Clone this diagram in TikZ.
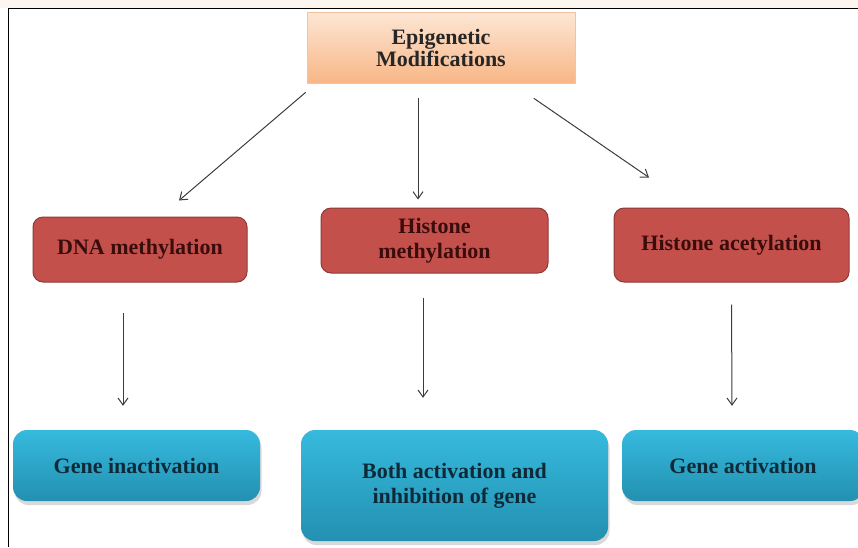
\documentclass[tikz,border=0pt]{standalone}
\usepackage{fontspec}
\setmainfont{Liberation Serif}
\usepackage{tikz}
\usetikzlibrary{arrows.meta,shadows}

\definecolor{stripcol}{HTML}{FDF5EF}
\definecolor{peachtop}{HTML}{FDE6D4}
\definecolor{peachbot}{HTML}{F8B686}
\definecolor{peachline}{HTML}{F3C3A0}
\definecolor{redfill}{HTML}{C4504C}
\definecolor{redline}{HTML}{8E3A38}
\definecolor{redtext}{HTML}{3A0C0C}
\definecolor{bluetop}{HTML}{36BADE}
\definecolor{bluebot}{HTML}{2390B0}
\definecolor{bluetext}{HTML}{0E2A38}
\definecolor{arrowcol}{HTML}{3C3C3C}

\begin{document}
\begin{tikzpicture}[x=1pt,y=-1pt,
    boxtext/.style={align=center,inner sep=0pt,font=\rmfamily\bfseries\fontsize{22}{25}\selectfont},
    modbox/.style={boxtext,top color=peachtop,bottom color=peachbot,draw=peachline,line width=0.6pt,
      font=\rmfamily\bfseries\fontsize{22}{22}\selectfont,text=black!85},
    typebox/.style={boxtext,fill=redfill,draw=redline,line width=1pt,rounded corners=10pt,text=redtext},
    effectbox/.style={boxtext,top color=bluetop,bottom color=bluebot,rounded corners=14pt,text=bluetext,
      drop shadow={opacity=0.3,shadow xshift=1.5pt,shadow yshift=-4pt}},
    link/.style={draw=arrowcol,line width=1pt,-{Straight Barb[length=7pt,width=10pt]}}]
  \useasboundingbox (0,0) rectangle (858,547);
  \fill[stripcol] (0,0) rectangle (858,8);
  \draw[line width=1pt] (858,8) -- (8,8) -- (8,547);

  \node (epi) [modbox,minimum width=268pt,minimum height=71pt] at (441,47.5) {Epigenetic\\Modifications};
  \node (dna) [typebox,minimum width=214pt,minimum height=65pt] at (140,249.5) {DNA methylation};
  \node (hmeth) [typebox,minimum width=227pt,minimum height=65pt] at (434.5,240.5) {Histone\\methylation};
  \node (hacet) [typebox,minimum width=235pt,minimum height=74pt] at (731.5,245) {Histone acetylation};
  \node (inact) [effectbox,minimum width=247pt,minimum height=71pt] at (136.5,465.5) {Gene inactivation};
  \node (both) [effectbox,minimum width=307pt,minimum height=111pt] at (454.5,485.5) {Both activation and\\inhibition of gene};
  \node (act) [effectbox,minimum width=242pt,minimum height=71pt] at (743,465.5) {Gene activation};

  \path[every edge/.style={link}]
    ([xshift=-1pt,yshift=-9pt]epi.south west) edge ([xshift=39pt,yshift=16pt]dna.north)
    ([xshift=-23pt,yshift=-15pt]epi.south) edge ([xshift=-16.5pt,yshift=8pt]hmeth.north)
    ([xshift=-41.5pt,yshift=-15pt]epi.south east) edge ([xshift=-82.5pt,yshift=30pt]hacet.north)
    ([xshift=-17pt,yshift=-30pt]dna.south) edge ([xshift=-13.5pt,yshift=24pt]inact.north)
    ([xshift=-11.5pt,yshift=-24pt]hmeth.south) edge ([xshift=-31.5pt,yshift=32pt]both.north)
    ([yshift=-22pt]hacet.south) edge ([xshift=-11pt,yshift=24pt]act.north);
\end{tikzpicture}
\end{document}
